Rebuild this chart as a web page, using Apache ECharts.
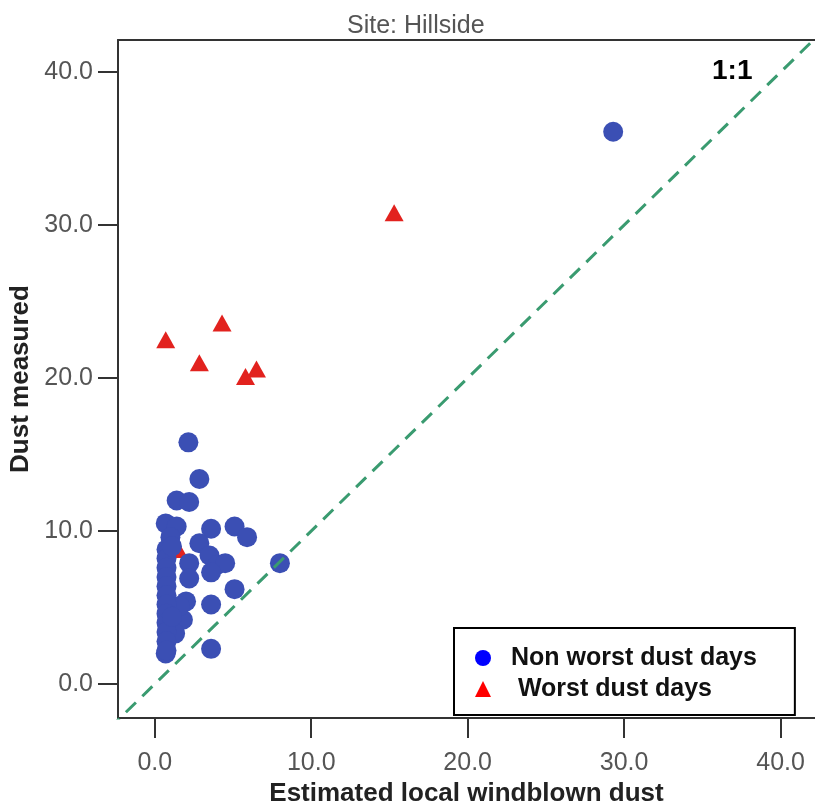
<!DOCTYPE html>
<html>
<head>
<meta charset="UTF-8">
<title>Site: Hillside</title>
<style>
  html, body { margin: 0; padding: 0; background: #fff; }
  #chart { width: 815px; height: 806px; }
</style>
<script src="https://cdn.jsdelivr.net/npm/echarts@6/dist/echarts.min.js"></script>
</head>
<body>
<div id="chart"></div>
<script>
// values: [estimated local windblown dust, dust measured]
var nonWorstDays = [
  [29.3, 36.1], [2.15, 15.8], [2.85, 13.4], [1.4, 12.0], [2.2, 11.9],
  [0.7, 10.5], [1.4, 10.3], [3.6, 10.15], [5.1, 10.3], [5.9, 9.6],
  [1.0, 9.6], [2.85, 9.2], [3.5, 8.4], [4.0, 7.8], [4.5, 7.9], [3.6, 7.3],
  [2.2, 7.9], [2.2, 6.9], [2.0, 5.4], [1.8, 4.2], [1.6, 5.1], [3.6, 5.2],
  [5.1, 6.2], [8.0, 7.9], [1.3, 3.3], [3.6, 2.3], [0.7, 2.0],
  [0.75, 8.8], [0.75, 8.2], [0.75, 7.6], [0.75, 7.0], [0.75, 6.4],
  [0.75, 5.8], [0.75, 5.2], [0.75, 4.6], [0.75, 4.0], [0.75, 3.4],
  [0.75, 2.8], [0.75, 2.2], [1.1, 9.0], [1.1, 4.4]
];
var worstDays = [
  [0.7, 22.5], [4.3, 23.6], [2.85, 21.0], [6.5, 20.6], [5.8, 20.1],
  [15.3, 30.8], [1.5, 8.8]
];
var oneToOne = [[-5, -5], [50, 50]];
var tickValues = [0, 10, 20, 30, 40];

var font = 'Liberation Sans, Arial, sans-serif';
var xRange = [-2.35, 42.2];
var yRange = [-2.22, 42.1];
var chart = echarts.init(document.getElementById('chart'));

var fmt = function (v) { return v.toFixed(1); };

chart.setOption({
  animation: false,
  title: {
    text: 'Site: Hillside',
    left: 342,
    top: 9,
    textStyle: { fontFamily: font, fontSize: 25, fontWeight: 'normal', color: '#555' }
  },
  grid: { left: 118, top: 40, right: 0, bottom: 88, show: false, outerBoundsMode: 'none' },
  legend: {
    orient: 'vertical',
    left: 454,
    top: 628,
    padding: [16, 38, 12, 21],
    itemGap: 3,
    itemWidth: 16,
    itemHeight: 16,
    backgroundColor: '#fff',
    borderColor: '#000',
    borderWidth: 2,
    borderRadius: 0,
    textStyle: {
      fontFamily: font, fontSize: 25, fontWeight: 'bold', color: '#111',
      lineHeight: 28, padding: [0, 0, 0, 15]
    },
    data: [
      { name: 'Non worst dust days', icon: 'circle', itemStyle: { color: '#0000ff' } },
      { name: ' Worst dust days', icon: 'triangle', itemStyle: { color: '#ff0000' } }
    ]
  },
  graphic: [{
    type: 'text',
    left: 712,
    top: 57,
    style: { text: '1:1', fill: '#000', font: 'bold 28px ' + font }
  }],
  xAxis: [
    {
      type: 'value',
      min: xRange[0],
      max: xRange[1],
      name: 'Estimated local windblown dust',
      nameLocation: 'middle',
      nameGap: 61,
      nameTextStyle: { fontFamily: font, fontSize: 26, fontWeight: 'bold', color: '#222' },
      axisLine: { show: true, onZero: false, lineStyle: { color: '#333', width: 2 } },
      axisTick: { show: true, length: 20, lineStyle: { color: '#333', width: 2 }, customValues: tickValues },
      axisLabel: { customValues: tickValues, margin: 33, fontFamily: font, fontSize: 25, color: '#555', formatter: fmt },
      splitLine: { show: false }
    },
    {
      // top frame line only
      type: 'value',
      position: 'top',
      min: xRange[0],
      max: xRange[1],
      axisLine: { show: true, onZero: false, lineStyle: { color: '#333', width: 2 } },
      axisTick: { show: false },
      axisLabel: { show: false },
      splitLine: { show: false }
    }
  ],
  yAxis: {
    type: 'value',
    min: yRange[0],
    max: yRange[1],
    name: 'Dust measured',
    nameLocation: 'middle',
    nameGap: 71,
    nameTextStyle: { fontFamily: font, fontSize: 26, fontWeight: 'bold', color: '#222' },
    axisLine: { show: true, onZero: false, lineStyle: { color: '#333', width: 2 } },
    axisTick: { show: true, length: 20, lineStyle: { color: '#333', width: 2 }, customValues: tickValues },
    axisLabel: { customValues: tickValues, margin: 25, fontFamily: font, fontSize: 25, color: '#555', formatter: fmt },
    splitLine: { show: false }
  },
  series: [
    {
      name: 'Non worst dust days',
      type: 'scatter',
      z: 3,
      symbol: 'circle',
      symbolSize: 20,
      itemStyle: { color: '#3b4fb4', opacity: 1 },
      data: nonWorstDays
    },
    {
      name: ' Worst dust days',
      type: 'scatter',
      z: 2,
      symbol: 'triangle',
      symbolSize: [19, 17],
      itemStyle: { color: '#e2221e', opacity: 1 },
      data: worstDays
    },
    {
      type: 'line',
      z: 4,
      silent: true,
      symbol: 'none',
      clip: true,
      lineStyle: { color: '#3a9b70', width: 3, type: [14, 9] },
      data: oneToOne
    }
  ]
});
</script>
</body>
</html>
